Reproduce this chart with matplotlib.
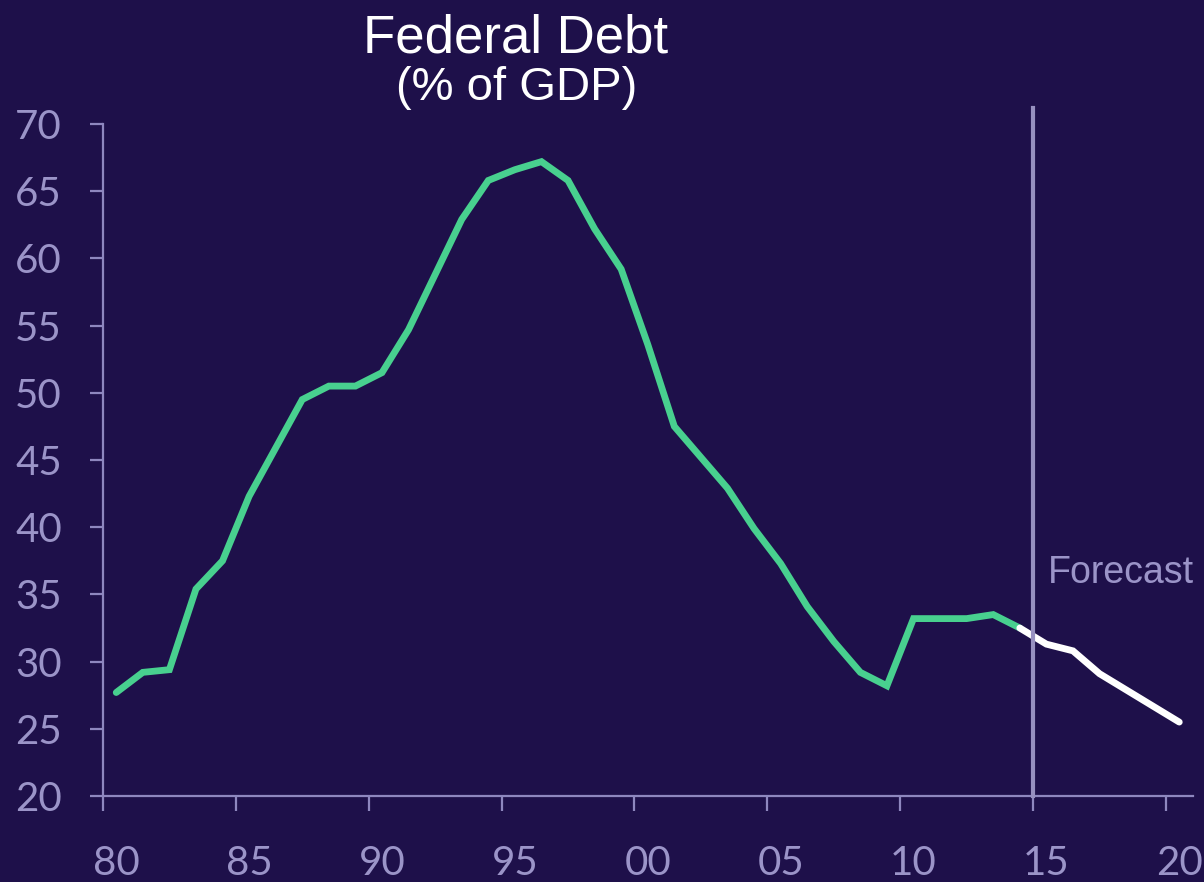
import matplotlib
matplotlib.use("Agg")
import matplotlib.pyplot as plt
from matplotlib.ticker import FixedLocator, NullFormatter
import numpy as np

# Federal debt, % of GDP, by year (each value plotted at mid-year)
years = list(range(1980, 2021))
debt = [27.7, 29.2, 29.4, 35.4, 37.5, 42.3, 45.9, 49.5, 50.5, 50.5,
        51.5, 54.7, 58.8, 62.9, 65.8, 66.6, 67.2, 65.8, 62.2, 59.2,
        53.6, 47.5, 45.2, 42.9, 39.9, 37.3, 34.1, 31.5, 29.2, 28.2,
        33.2, 33.2, 33.2, 33.5, 32.5, 31.3, 30.8, 29.1, 27.9, 26.7,
        25.5]
last_actual_year = 2014
forecast_start = 2015
tick_years = [1980, 1985, 1990, 1995, 2000, 2005, 2010, 2015, 2020]
tick_labels = ["80", "85", "90", "95", "00", "05", "10", "15", "20"]
y_ticks = [20, 25, 30, 35, 40, 45, 50, 55, 60, 65, 70]

BG = "#1e104a"
GREEN = "#48d08f"
AXIS = "#8e87bf"
LABEL = "#9b94c8"

fig = plt.figure(figsize=(12.04, 8.82), dpi=100, facecolor=BG)
ax = fig.add_axes([0.0855, 0.0975, 0.9050, 0.7619])
ax.set_facecolor(BG)

x = np.array(years) + 0.5
y = np.array(debt)
split = years.index(last_actual_year)

ax.plot(x[:split + 1], y[:split + 1], color=GREEN, lw=4.9,
        solid_capstyle="round", solid_joinstyle="miter", zorder=3)
ax.plot(x[split:], y[split:], color="white", lw=4.9,
        solid_capstyle="round", solid_joinstyle="miter", zorder=3)

# forecast divider, running a little above the plot area
ax.plot([forecast_start, forecast_start], [20, 71.2], color="#9790c0",
        lw=3.0, clip_on=False, zorder=4)
ax.text(forecast_start + 0.56, 35.85, "Forecast", color=LABEL,
        fontsize=27, family="Liberation Sans", ha="left", va="baseline")

ax.set_xlim(1980, 2021)
ax.set_ylim(20, 70)

for side in ("top", "right"):
    ax.spines[side].set_visible(False)
for side in ("left", "bottom"):
    ax.spines[side].set_color(AXIS)
    ax.spines[side].set_linewidth(1.6)

ax.set_yticks(y_ticks)
ax.set_yticklabels([str(v) for v in y_ticks])
ax.tick_params(axis="y", direction="out", length=9.5, width=1.6, color=AXIS,
               labelcolor=LABEL, labelsize=29, pad=20)

# year ticks sit on the boundaries, labels centred on the year
ax.xaxis.set_major_locator(FixedLocator(tick_years))
ax.xaxis.set_major_formatter(NullFormatter())
ax.xaxis.set_minor_locator(FixedLocator([t + 0.5 for t in tick_years]))
ax.set_xticklabels(tick_labels, minor=True)
ax.tick_params(axis="x", which="major", direction="out", length=11,
               width=1.6, color=AXIS)
ax.tick_params(axis="x", which="minor", length=0, labelcolor=LABEL,
               labelsize=29, pad=35)

for lbl in ax.get_yticklabels() + ax.get_xticklabels(minor=True):
    lbl.set_family(["Lato", "DejaVu Sans"])

fig.text(0.4286, 0.940, "Federal Debt", color="white", fontsize=38,
         family="Liberation Sans", ha="center", va="baseline")
fig.text(0.4294, 0.8866, "(% of GDP)", color="white", fontsize=34,
         family="Liberation Sans", ha="center", va="baseline")

fig.savefig("out.png", dpi=100, facecolor=BG)
